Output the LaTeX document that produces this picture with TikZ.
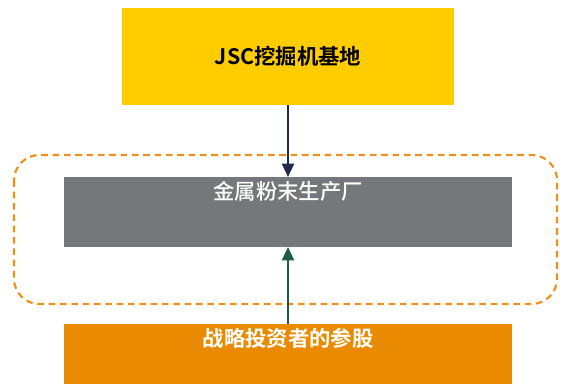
\documentclass[tikz,border=0pt]{standalone}
\usepackage{fontspec}
\newfontfamily\cjk{Noto Sans CJK SC Medium}
\newfontfamily\cjkbf{Noto Sans CJK SC Bold}
\usetikzlibrary{arrows.meta}
\definecolor{baseyellow}{HTML}{FFCC00}
\definecolor{plantgray}{HTML}{75787B}
\definecolor{stakeorange}{HTML}{EA8A00}
\definecolor{frameorange}{HTML}{F0901A}
\definecolor{arrownavy}{HTML}{1F2A4F}
\definecolor{arrowgreen}{HTML}{1E5B49}
\tikzset{
  box/.style={rectangle, inner sep=0pt, outer sep=0pt},
  link/.style={line width=1.6pt, -{Triangle[length=10pt,width=9pt]}}
}
\begin{document}
\begin{tikzpicture}[x=0.75pt, y=-0.75pt]
  \useasboundingbox (0,0) rectangle (563,384);

  \draw[frameorange, line width=1.6pt, dash pattern=on 5pt off 3.5pt, rounded corners=19pt]
    (14,155) rectangle (557,304);

  \node[box, fill=baseyellow, minimum width=249pt, minimum height=72.75pt,
        font=\cjkbf\fontsize{16}{18}\selectfont] (base) at (288,56.5) {JSC挖掘机基地};
  \node[box, fill=plantgray, minimum width=336pt, minimum height=52.5pt,
        label={[anchor=north, inner sep=0pt, yshift=-3pt, text=white, font=\cjk\fontsize{16}{18}\selectfont]north:金属粉末生产厂}]
        (plant) at (288,212) {};
  \node[box, fill=stakeorange, minimum width=336pt, minimum height=45pt,
        label={[anchor=north, inner sep=0pt, yshift=-3pt, text=white, font=\cjkbf\fontsize{16}{18}\selectfont]north:战略投资者的参股}]
        (stake) at (288,354) {};

  \draw[link, arrownavy] (base.south) -- (plant.north);
  \draw[link, arrowgreen] (stake.north) -- (plant.south);
\end{tikzpicture}
\end{document}
